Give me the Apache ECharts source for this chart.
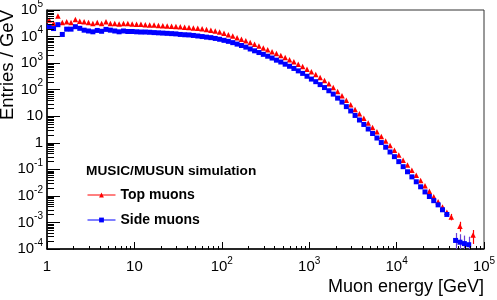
<!DOCTYPE html>
<html>
<head>
<meta charset="UTF-8">
<script src="https://cdn.jsdelivr.net/npm/echarts@6/dist/echarts.min.js"></script>
<style>
html, body { margin: 0; padding: 0; background: #fff; }
#chart { width: 497px; height: 300px; }
</style>
</head>
<body>
<div id="chart"></div>
<script>
// histogram binning: 20 log bins per decade, starting at 1 GeV
var binsPerDecade = 20;
var nBins = 98;

// Entries / GeV per bin (null = empty bin)
var topMuons = [
    4.2e4, 3.2e4, 5.9e4, 3.4e4, 3.6e4, 3.4e4, 4.4e4, 3.8e4, 3.6e4, 3.4e4,
    3.1e4, 3.4e4, 3.1e4, 3.6e4, 3.1e4, 3.1e4, 2.95e4, 3.1e4, 3.1e4, 2.95e4,
    2.9e4, 2.9e4, 2.8e4, 2.75e4, 2.7e4, 2.6e4, 2.57e4, 2.5e4, 2.45e4, 2.4e4,
    2.35e4, 2.24e4, 2.19e4, 2.09e4, 2.04e4, 1.95e4, 1.86e4, 1.74e4, 1.62e4, 1.48e4,
    1.32e4, 1.17e4, 1.05e4, 9100, 7900, 6900, 6000, 5100, 4400, 3700,
    3200, 2700, 2300, 1950, 1620, 1350, 1120, 910, 740, 590,
    470, 370, 290, 220, 166, 120, 85, 59, 40, 27,
    18, 12.3, 8.3, 5.6, 3.8, 2.6, 1.74, 1.17, 0.79, 0.52,
    0.35, 0.22, 0.145, 0.093, 0.060, 0.038, 0.024, 0.0148, 0.0093, 0.0060,
    0.0038, 0.0024, 0.0016, null, 7.2e-4, null, null, 3.4e-4
];
var sideMuons = [
    2.4e4, 2.0e4, 2.8e4, 1.2e4, 1.9e4, 1.9e4, 2.35e4, 2.04e4, 1.74e4, 1.62e4,
    1.51e4, 1.7e4, 1.58e4, 1.86e4, 1.74e4, 1.62e4, 1.51e4, 1.62e4, 1.55e4, 1.55e4,
    1.51e4, 1.48e4, 1.48e4, 1.45e4, 1.41e4, 1.38e4, 1.35e4, 1.32e4, 1.29e4, 1.26e4,
    1.2e4, 1.17e4, 1.15e4, 1.1e4, 1.05e4, 1.0e4, 9500, 9100, 8500, 7900,
    7200, 6600, 5900, 5200, 4600, 4000, 3400, 2900, 2500, 2140,
    1820, 1550, 1290, 1100, 910, 760, 630, 510, 410, 320,
    250, 200, 155, 120, 91, 68, 48, 34, 23, 15.8,
    10.7, 7.2, 4.9, 3.3, 2.24, 1.51, 1.02, 0.68, 0.45, 0.30,
    0.195, 0.126, 0.081, 0.052, 0.034, 0.022, 0.0141, 0.0095, 0.0066, 0.0046,
    0.0030, 0.0020, null, 2.1e-4, 1.8e-4, 1.6e-4, 1.45e-4, null
];
// visible error bars: [bin, low, high]
var topErrors = [[92, 0.0012, 0.0021], [94, 4.5e-4, 1.06e-3], [97, 1.55e-4, 5.2e-4]];
var sideErrors = [[93, 1e-6, 4.0e-4], [94, 1e-6, 3.6e-4], [95, 1e-6, 3.2e-4], [96, 1e-6, 2.9e-4]];

var xRange = [1, 1e5];
var yRange = [1e-4, 1e5];

var font = 'Liberation Sans, Arial, Helvetica, sans-serif';

var energy = [];
for (var i = 0; i < nBins; i++) {
    energy.push(Math.pow(10, (i + 0.5) / binsPerDecade));
}

function points(values) {
    var out = [];
    values.forEach(function(v, i) {
        if (v != null) out.push([energy[i], v]);
    });
    return out;
}
function errorPoints(list) {
    return list.map(function(e) { return [energy[e[0]], e[1], e[2]]; });
}

// minor ticks at 2..9 of each decade, like ROOT log axes
function minorTicks(lo, hi) {
    var t = [];
    for (var k = Math.round(Math.log10(lo)); k < Math.round(Math.log10(hi)); k++) {
        for (var m = 2; m <= 9; m++) t.push(m * Math.pow(10, k));
    }
    return t;
}
var xMinor = minorTicks(xRange[0], xRange[1]).map(function(v) { return [v, yRange[0]]; });
var yMinor = minorTicks(yRange[0], yRange[1]).map(function(v) { return [xRange[0], v]; });

function powLabel(v) {
    var e = Math.round(Math.log10(v));
    if (Math.abs(Math.log10(v) - e) > 1e-6) return '';
    if (e === 0) return '{b|1}';
    if (e === 1) return '{b|10}';
    return '{b|10}{s|' + e + '}';
}
var labelRich = {
    b: { fontSize: 15, lineHeight: 22, fontFamily: font, color: '#000' },
    s: { fontSize: 10, lineHeight: 10, verticalAlign: 'top', fontFamily: font, color: '#000' }
};

function tickRenderer(dir, len) {
    return function(params, api) {
        var p = api.coord([api.value(0), api.value(1)]);
        var x = Math.round(p[0]) + 0.5, y = Math.round(p[1]) + 0.5;
        var shape = dir === 'x' ? { x1: x, y1: y, x2: x, y2: y - len } : { x1: x, y1: y, x2: x + len, y2: y };
        return { type: 'line', shape: shape, style: { stroke: '#000', lineWidth: 1 } };
    };
}
function errorRenderer(color) {
    return function(params, api) {
        var cs = params.coordSys;
        var p1 = api.coord([api.value(0), api.value(1)]);
        var p2 = api.coord([api.value(0), api.value(2)]);
        var y1 = Math.min(p1[1], cs.y + cs.height);
        var y2 = Math.max(p2[1], cs.y);
        var x = Math.round(p1[0]) + 0.5;
        return { type: 'line', shape: { x1: x, y1: y1, x2: x, y2: y2 }, style: { stroke: color, lineWidth: 1.2 } };
    };
}

var chart = echarts.init(document.getElementById('chart'));
chart.setOption({
    animation: false,
    backgroundColor: '#fff',
    title: {
        text: 'MUSIC/MUSUN simulation',
        left: 86, top: 164, padding: 0,
        textStyle: { fontFamily: font, fontSize: 13.7, fontWeight: 'bold', color: '#000' }
    },
    legend: {
        orient: 'vertical', left: 87, top: 188, padding: 0,
        itemWidth: 28, itemHeight: 6, itemGap: 11,
        selectedMode: false,
        textStyle: { fontFamily: font, fontSize: 14, fontWeight: 'bold', color: '#000' },
        lineStyle: { width: 1, opacity: 1 },
        data: ['Top muons', 'Side muons']
    },
    grid: {
        left: 47, right: 13, top: 10, bottom: 51,
        show: true, borderColor: '#333', borderWidth: 1,
        outerBoundsMode: 'none'
    },
    xAxis: {
        type: 'log', logBase: 10, min: xRange[0], max: xRange[1], interval: 1,
        axisLine: { lineStyle: { color: '#000', width: 1.5 } },
        axisTick: { inside: true, length: 7, lineStyle: { color: '#000' } },
        splitLine: { show: false },
        axisLabel: { margin: 7, showMinLabel: true, showMaxLabel: true, formatter: powLabel, rich: labelRich },
        name: 'Muon energy [GeV]', nameLocation: 'end', nameGap: 0, nameMoveOverlap: false,
        nameTextStyle: { fontFamily: font, fontSize: 18, color: '#000', align: 'right', verticalAlign: 'top', padding: [29, 0, 0, 0] }
    },
    yAxis: {
        type: 'log', logBase: 10, min: yRange[0], max: yRange[1], interval: 1,
        axisLine: { lineStyle: { color: '#000', width: 1.5 } },
        axisTick: { inside: true, length: 13, lineStyle: { color: '#000' } },
        splitLine: { show: false },
        axisLabel: { margin: 4, showMinLabel: true, showMaxLabel: true, formatter: powLabel, rich: labelRich },
        name: 'Entries / GeV', nameLocation: 'end', nameGap: 0, nameRotate: 90, nameMoveOverlap: false,
        nameTextStyle: { fontFamily: font, fontSize: 18.5, color: '#000', align: 'right', verticalAlign: 'bottom', padding: [0, 0, 30, 0] }
    },
    series: [
        {
            name: 'Top muons', type: 'line', data: points(topMuons),
            symbol: 'triangle', symbolSize: 5.5, showAllSymbol: true,
            itemStyle: { color: '#ff0000' }, lineStyle: { opacity: 0 }, z: 3
        },
        {
            name: 'Side muons', type: 'line', data: points(sideMuons),
            symbol: 'rect', symbolSize: 5, showAllSymbol: true,
            itemStyle: { color: '#0000ff' }, lineStyle: { opacity: 0 }, z: 4
        },
        {
            type: 'custom', renderItem: errorRenderer('#ff0000'), data: errorPoints(topErrors),
            encode: { x: 0, y: [1, 2] }, silent: true, z: 2
        },
        {
            type: 'custom', renderItem: errorRenderer('#6a3fd6'), data: errorPoints(sideErrors),
            encode: { x: 0, y: [1, 2] }, silent: true, z: 2
        },
        {
            type: 'custom', renderItem: tickRenderer('x', 3.5), data: xMinor,
            encode: { x: 0, y: 1 }, silent: true, z: 5
        },
        {
            type: 'custom', renderItem: tickRenderer('y', 6.5), data: yMinor,
            encode: { x: 0, y: 1 }, silent: true, z: 5
        }
    ]
});
</script>
</body>
</html>
